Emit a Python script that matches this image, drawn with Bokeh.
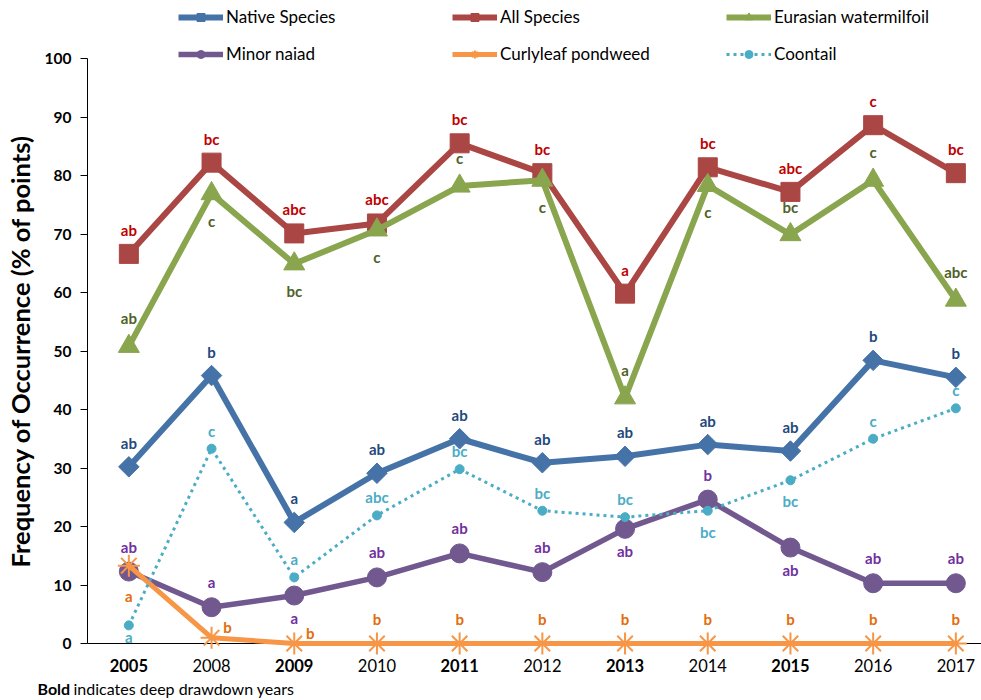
from bokeh.plotting import figure
from bokeh.models import Range1d, FixedTicker, Legend, LegendItem, ColumnDataSource
from bokeh.core.properties import value
from bokeh.embed import file_html
from bokeh.resources import INLINE
import math

# ---- data -----------------------------------------------------------------
years = ["2005", "2008", "2009", "2010", "2011", "2012", "2013", "2014", "2015", "2016", "2017"]
deep_drawdown = [True, False, True, False, True, False, True, False, True, False, False]

native_species = [30.2, 45.8, 20.7, 29.1, 35.0, 30.9, 32.0, 34.0, 32.9, 48.4, 45.5]
all_species = [66.6, 82.2, 70.1, 71.8, 85.5, 80.4, 59.8, 81.4, 77.2, 88.6, 80.4]
eurasian_watermilfoil = [50.8, 76.9, 64.9, 70.7, 78.2, 79.2, 42.0, 78.3, 69.9, 79.2, 58.7]
minor_naiad = [12.3, 6.2, 8.2, 11.3, 15.4, 12.2, 19.6, 24.6, 16.4, 10.3, 10.3]
curlyleaf_pondweed = [13.3, 1.0, 0.0, 0.0, 0.0, 0.0, 0.0, 0.0, 0.0, 0.0, 0.0]
coontail = [3.1, 33.3, 11.3, 21.9, 29.8, 22.7, 21.6, 22.7, 27.9, 35.0, 40.2]

# significance letters for each year
native_letters = ["ab", "b", "a", "ab", "ab", "ab", "ab", "ab", "ab", "b", "b"]
all_letters = ["ab", "bc", "abc", "abc", "bc", "bc", "a", "bc", "abc", "c", "bc"]
eurasian_letters = ["ab", "c", "bc", "c", "c", "c", "a", "c", "bc", "c", "abc"]
naiad_letters = ["ab", "a", "a", "ab", "ab", "ab", "ab", "b", "ab", "ab", "ab"]
curlyleaf_letters = ["a", "b", "b", "b", "b", "b", "b", "b", "b", "b", "b"]
coontail_letters = ["a", "c", "a", "abc", "bc", "bc", "bc", "bc", "bc", "c", "c"]

# where each letter sits relative to its point
native_place = ["above"] * 11
all_place = ["above"] * 11
eurasian_place = ["above", "below", "below", "below", "above", "below", "above", "below", "above", "above", "above"]
naiad_place = ["above", "above", "below", "above", "above", "above", "below", "above", "below", "above", "above"]
curlyleaf_place = ["below", "right", "right"] + ["above"] * 8
coontail_place = ["tight_below", "above", "above", "above", "above", "above", "above", "below", "below", "above", "above"]

y_ticks = list(range(0, 101, 10))

# ---- geometry ---------------------------------------------------------------
# the frame fills the whole canvas; the value axis is pinned at the first
# category's left edge so the footnote and year labels can live in the frame
W, H = 981, 700
AXIS_PX = 87
Y100_PX, Y0_PX = 58, 643
PX_PER_UNIT = (Y0_PX - Y100_PX) / 100.0
PX_PER_CAT = 82.7

axis_x = -0.5
x_start = axis_x - AXIS_PX / PX_PER_CAT
x_end = axis_x + (W - AXIS_PX) / PX_PER_CAT
y_end = 100 + Y100_PX / PX_PER_UNIT
y_start = -(H - Y0_PX) / PX_PER_UNIT


def px_x(px):
    return x_start + px / PX_PER_CAT


def dx(px):
    return px / PX_PER_CAT


def dy(px):
    return px / PX_PER_UNIT


FONT = "Lato"

p = figure(width=W, height=H,
           x_range=Range1d(x_start, x_end), y_range=Range1d(y_start, y_end),
           output_backend="svg", toolbar_location=None, x_axis_location=None,
           min_border_left=0, min_border_right=0,
           min_border_top=0, min_border_bottom=0)
p.outline_line_color = None
p.grid.grid_line_color = None
p.background_fill_color = "white"
p.border_fill_color = "white"

# y axis
ya = p.yaxis[0]
ya.fixed_location = axis_x
ya.ticker = FixedTicker(ticks=y_ticks)
ya.bounds = (0, 100)
ya.axis_line_color = "black"
ya.axis_line_width = 1
ya.major_tick_line_color = "black"
ya.major_tick_out = 7
ya.major_tick_in = 0
ya.minor_tick_line_color = None
ya.major_label_text_font = FONT
ya.major_label_text_font_style = "bold"
ya.major_label_text_font_size = "15.5px"
ya.major_label_text_color = "black"
ya.major_label_standoff = 9
ya.axis_label = "Frequency of Occurrence (% of points)"
ya.axis_label_text_font = FONT
ya.axis_label_text_font_style = "bold"
ya.axis_label_text_font_size = "25.5px"
ya.axis_label_text_color = "black"
ya.axis_label_standoff = 7

# category axis line at zero, starting at the value axis
p.segment(x0=[axis_x], y0=[0], x1=[x_end], y1=[0], line_color="black", line_width=1, level="underlay")

xs = list(range(len(years)))

series = [
    dict(name="Native Species", vals=native_species, letters=native_letters, place=native_place,
         color="#4573A8", text_color="#1F497D", width=6, marker="square", size=14.5, angle=math.pi / 4,
         above=24, below=26, dash="solid"),
    dict(name="All Species", vals=all_species, letters=all_letters, place=all_place,
         color="#AA4643", text_color="#C00000", width=6, marker="square", size=19, angle=0,
         above=24, below=26, dash="solid"),
    dict(name="Eurasian watermilfoil", vals=eurasian_watermilfoil, letters=eurasian_letters, place=eurasian_place,
         color="#89A54E", text_color="#4F6228", width=6, marker="triangle", size=21, angle=0,
         above=28, below=27, dash="solid"),
    dict(name="Minor naiad", vals=minor_naiad, letters=naiad_letters, place=naiad_place,
         color="#71588F", text_color="#7030A0", width=5.5, marker="circle", size=19, angle=0,
         above=25, below=22, dash="solid"),
    dict(name="Curlyleaf pondweed", vals=curlyleaf_pondweed, letters=curlyleaf_letters, place=curlyleaf_place,
         color="#F79646", text_color="#E46C0A", width=5, marker="asterisk", size=22, angle=0,
         above=25, below=30, dash="solid"),
    dict(name="Coontail", vals=coontail, letters=coontail_letters, place=coontail_place,
         color="#4BACC6", text_color="#4BACC6", width=3, marker="circle", size=9, angle=0,
         above=18, below=21, dash="3 4"),
]

legend_items = []
for s in series:
    lx, ly = [], []
    for i, (v, pl) in enumerate(zip(s["vals"], s["place"])):
        if pl == "above":
            lx.append(i); ly.append(v + dy(s["above"]))
        elif pl == "below":
            lx.append(i); ly.append(v - dy(s["below"]))
        elif pl == "tight_below":
            lx.append(i); ly.append(v - dy(12))
        else:  # right of the point
            lx.append(i + dx(16)); ly.append(v + dy(11))
    src = ColumnDataSource(dict(x=xs, y=s["vals"], lx=lx, ly=ly, letter=s["letters"]))
    ln = p.line("x", "y", source=src, line_color=s["color"], line_width=s["width"],
                line_dash=s["dash"], line_join="round")
    if s["marker"] == "asterisk":
        mk = p.scatter("x", "y", source=src, marker="asterisk", size=s["size"],
                       line_color=s["color"], line_width=2, fill_color=None)
    else:
        mk = p.scatter("x", "y", source=src, marker=s["marker"], size=s["size"], angle=s["angle"],
                       line_color=s["color"], fill_color=s["color"], line_width=1)
    p.text("lx", "ly", text="letter", source=src, text_color=s["text_color"],
           text_font=value(FONT), text_font_style="bold", text_font_size="15px",
           text_align="center", text_baseline="middle")
    legend_items.append(LegendItem(label=s["name"], renderers=[ln, mk]))

# year labels (bold = deep drawdown years)
year_y = -dy(665 - Y0_PX)
bold_x = [i for i, b in enumerate(deep_drawdown) if b]
norm_x = [i for i, b in enumerate(deep_drawdown) if not b]
p.text(x=bold_x, y=[year_y] * len(bold_x), text=[years[i] for i in bold_x],
       text_font=value(FONT), text_font_style="bold", text_font_size="16.5px", text_color="black",
       text_align="center", text_baseline="middle")
p.text(x=norm_x, y=[year_y] * len(norm_x), text=[years[i] for i in norm_x],
       text_font=value(FONT), text_font_style="normal", text_font_size="16.5px", text_color="black",
       text_align="center", text_baseline="middle")

# footnote
note_y = -dy(688 - Y0_PX)
p.text(x=[px_x(37)], y=[note_y], text=["Bold"],
       text_font=value(FONT), text_font_style="bold", text_font_size="16px", text_color="black",
       text_align="left", text_baseline="middle")
p.text(x=[px_x(73)], y=[note_y], text=["indicates deep drawdown years"],
       text_font=value(FONT), text_font_style="normal", text_font_size="16px", text_color="black",
       text_align="left", text_baseline="middle")

legend = Legend(items=legend_items, orientation="horizontal", ncols=3,
                location=(178, H - 64),
                glyph_width=45, glyph_height=20, label_width=210, label_standoff=3,
                spacing=16, padding=0, margin=0,
                border_line_color=None, background_fill_alpha=0,
                label_text_font=FONT, label_text_font_size="17px", label_text_color="black")
p.add_layout(legend, "center")

open("out.html", "w").write(file_html(p, INLINE))
